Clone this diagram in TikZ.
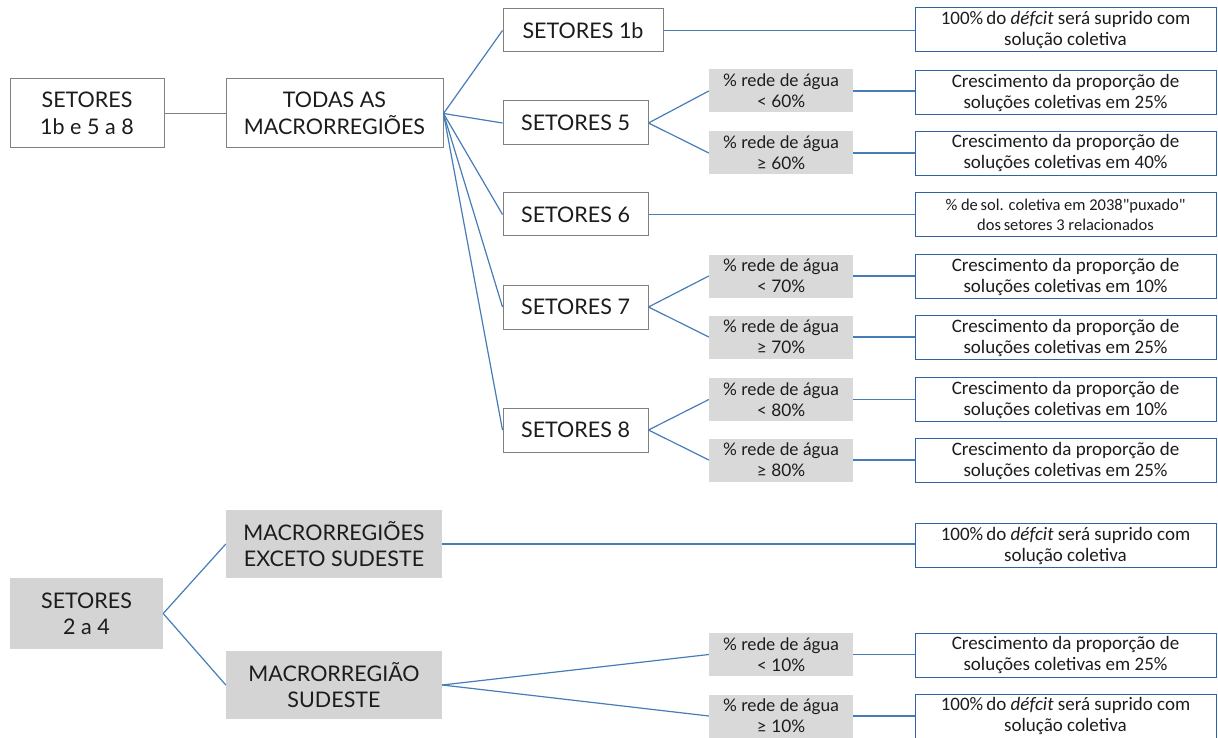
\documentclass[tikz,border=0pt]{standalone}
\usepackage{fontspec}
\setmainfont{Lato}
\newfontfamily\resfont{Carlito}
\definecolor{linkblue}{RGB}{70,124,184}
\definecolor{edgeblue}{RGB}{46,100,165}
\definecolor{inkgray}{RGB}{28,28,28}
\begin{document}
\begin{tikzpicture}[x=1pt,y=-1pt,
  txt/.style={text=inkgray, align=center, inner sep=0pt},
  whitebox/.style={txt, draw=black!50, line width=1pt, fill=white, font=\fontsize{21.5}{27}\selectfont},
  graybox/.style={txt, fill=black!17, font=\fontsize{21.5}{26}\selectfont},
  condbox/.style={txt, fill=black!15, minimum width=144pt, minimum height=43pt, font=\fontsize{17.3}{21}\selectfont},
  resbox/.style={txt, draw=edgeblue, line width=1pt, fill=white, minimum width=301pt, minimum height=44pt, font=\resfont\fontsize{19}{21}\selectfont},
  link/.style={draw=linkblue, line width=1.2pt},
  glink/.style={draw=black!50, line width=1.2pt}]
\useasboundingbox (0,0) rectangle (1218,738);

% upper tree: sectors 1b and 5 to 8
\node[whitebox, minimum width=154pt, minimum height=69pt] (s18) at (87,113.5) {SETORES\\1b e 5 a 8};
\node[whitebox, minimum width=217pt, minimum height=69pt] (todas) at (334.5,113.5) {TODAS AS\\MACRORREGIÕES};
\node[whitebox, minimum width=160pt, minimum height=43pt] (s1b) at (583,30.5) {SETORES 1b};
\node[whitebox, minimum width=145pt, minimum height=44pt] (s5) at (575.5,123) {SETORES 5};
\node[whitebox, minimum width=145pt, minimum height=43pt] (s6) at (575.5,214.5) {SETORES 6};
\node[whitebox, minimum width=145pt, minimum height=44pt] (s7) at (575.5,307) {SETORES 7};
\node[whitebox, minimum width=145pt, minimum height=44pt] (s8) at (575.5,430) {SETORES 8};

\node[condbox] (c5a) at (781,91) {\% rede de água\\< 60\%};
\node[condbox] (c5b) at (781,153) {\% rede de água\\≥ 60\%};
\node[condbox] (c7a) at (781,276) {\% rede de água\\< 70\%};
\node[condbox] (c7b) at (781,337) {\% rede de água\\≥ 70\%};
\node[condbox] (c8a) at (781,399.5) {\% rede de água\\< 80\%};
\node[condbox] (c8b) at (781,460) {\% rede de água\\≥ 80\%};

\node[resbox] (r1b) at (1065.5,30) {100\%\,do \textit{défcit} será suprido com\\solução coletiva};
\node[resbox] (r5a) at (1065.5,93) {Crescimento da proporção de\\soluções coletivas em 25\%};
\node[resbox] (r5b) at (1065.5,153.5) {Crescimento da proporção de\\soluções coletivas em 40\%};
\node[resbox, font=\resfont\fontsize{16.5}{20}\selectfont] (r6) at (1065.5,214.5) {\% de\,sol. coletiva em 2038"puxado"\\dos\,setores 3 relacionados};
\node[resbox] (r7a) at (1065.5,276.5) {Crescimento da proporção de\\soluções coletivas em 10\%};
\node[resbox] (r7b) at (1065.5,337.5) {Crescimento da proporção de\\soluções coletivas em 25\%};
\node[resbox] (r8a) at (1065.5,399.5) {Crescimento da proporção de\\soluções coletivas em 10\%};
\node[resbox] (r8b) at (1065.5,460.5) {Crescimento da proporção de\\soluções coletivas em 25\%};

\draw[glink] (s18.east) -- (todas.west);
\foreach \s in {s1b,s5,s6,s7,s8}
  \draw[link] (todas.east) -- (\s.west);
\draw[link] (s1b.east) -- (s1b.east -| r1b.west);
\draw[link] (s6.east) -- (s6.east -| r6.west);
\draw[link] (s5.east) -- (c5a.west);
\draw[link] (s5.east) -- (c5b.west);
\draw[link] (s7.east) -- (c7a.west);
\draw[link] (s7.east) -- (c7b.west);
\draw[link] (s8.east) -- (c8a.west);
\draw[link] (s8.east) -- (c8b.west);
\foreach \c/\r in {c5a/r5a,c5b/r5b,c7a/r7a,c7b/r7b,c8a/r8a,c8b/r8b}
  \draw[link] (\c.east) -- (\c.east -| \r.west);

% lower tree: sectors 2 to 4
\node[graybox, minimum width=153pt, minimum height=71pt] (s24) at (86.5,613.5) {SETORES\\2 a 4};
\node[graybox, minimum width=216pt, minimum height=68pt] (exc) at (334,544) {MACRORREGIÕES\\EXCETO SUDESTE};
\node[graybox, minimum width=216pt, minimum height=68pt] (sud) at (334,685) {MACRORREGIÃO\\SUDESTE};
\node[condbox] (c10a) at (781,654.5) {\% rede de água\\< 10\%};
\node[condbox] (c10b) at (781,716) {\% rede de água\\≥ 10\%};
\node[resbox] (rexc) at (1065.5,545.5) {100\%\,do \textit{défcit} será suprido com\\solução coletiva};
\node[resbox] (r10a) at (1065.5,655) {Crescimento da proporção de\\soluções coletivas em 25\%};
\node[resbox] (r10b) at (1065.5,716) {100\%\,do \textit{défcit} será suprido com\\solução coletiva};

\draw[link] (s24.east) -- (exc.west);
\draw[link] (s24.east) -- (sud.west);
\draw[link] (exc.east) -- (exc.east -| rexc.west);
\draw[link] (sud.east) -- (c10a.west);
\draw[link] (sud.east) -- (c10b.west);
\draw[link] (c10a.east) -- (c10a.east -| r10a.west);
\draw[link] (c10b.east) -- (c10b.east -| r10b.west);
\end{tikzpicture}
\end{document}
